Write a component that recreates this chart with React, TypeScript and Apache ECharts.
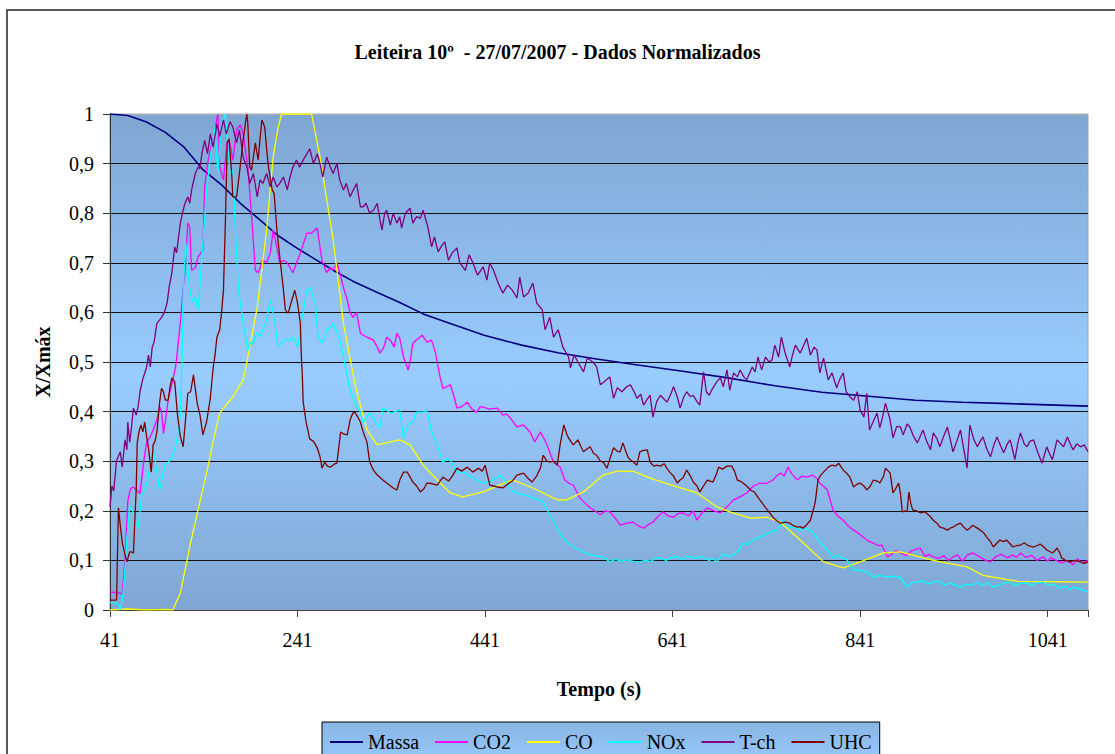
import React, { useEffect, useRef } from 'react';
import * as echarts from 'echarts';

const X0 = 41;
const X_END = 1084;
const xTickLabels = ['41', '241', '441', '641', '841', '1041'];
const yTickLabels = ['0', '0,1', '0,2', '0,3', '0,4', '0,5', '0,6', '0,7', '0,8', '0,9', '1'];
const seriesNames = ['Massa', 'CO2', 'CO', 'NOx', 'T-ch', 'UHC'];
const seriesColors = ['#000080', '#FF00FF', '#FFFF00', '#00FFFF', '#800080', '#800000'];

const massa = [[41,1.0],[60,0.997],[80,0.984],[100,0.963],[120,0.933],[140,0.888],[160,0.857],[180,0.82],[200,0.788],[220,0.755],[240,0.73],[260,0.707],[280,0.684],[300,0.663],[325,0.641],[350,0.62],[375,0.597],[400,0.58],[440,0.554],[480,0.534],[520,0.518],[560,0.506],[600,0.495],[650,0.482],[700,0.468],[750,0.452],[800,0.439],[850,0.431],[900,0.423],[950,0.419],[1000,0.416],[1050,0.413],[1084,0.411]];

const co = [[41,0],[60,0.002],[80,0],[100,0.001],[108,0],[116,0.034],[126,0.127],[134,0.195],[144,0.276],[151,0.34],[158,0.397],[172,0.43],[183,0.464],[187,0.5],[198,0.61],[208,0.766],[215,0.913],[220,0.97],[224,1.0],[240,1.0],[256,1.0],[265,0.913],[279,0.746],[290,0.578],[302,0.458],[308,0.413],[315,0.363],[326,0.333],[338,0.338],[350,0.343],[361,0.333],[375,0.292],[393,0.256],[404,0.236],[417,0.228],[439,0.238],[464,0.258],[471,0.262],[492,0.246],[518,0.222],[528,0.222],[546,0.238],[567,0.272],[582,0.28],[599,0.28],[617,0.266],[646,0.248],[667,0.236],[688,0.208],[702,0.198],[724,0.185],[742,0.187],[756,0.177],[777,0.141],[802,0.097],[823,0.085],[841,0.097],[866,0.115],[884,0.117],[919,0.1],[955,0.087],[972,0.07],[1008,0.058],[1084,0.056]];

const co2 = [[41,0.036],[50,0.035],[54,0.032],[57,0.1],[60,0.22],[63,0.245],[66,0.248],[70,0.24],[73,0.235],[77,0.3],[80,0.337],[84,0.35],[87,0.363],[91,0.383],[94,0.41],[96,0.4],[98,0.356],[100,0.38],[103,0.423],[108,0.464],[111,0.49],[116,0.578],[119,0.65],[121,0.68],[124,0.78],[126,0.772],[128,0.685],[132,0.69],[135,0.712],[140,0.726],[142,0.853],[145,0.9],[148,0.927],[152,0.96],[156,1.0],[158,0.893],[162,0.867],[166,0.947],[169,0.94],[172,0.907],[176,0.968],[180,0.978],[183,0.96],[188,0.893],[192,0.793],[196,0.685],[199,0.68],[204,0.705],[208,0.7],[212,0.72],[215,0.766],[218,0.74],[222,0.7],[226,0.705],[230,0.7],[236,0.68],[240,0.7],[244,0.72],[251,0.76],[256,0.76],[262,0.77],[267,0.705],[272,0.68],[276,0.69],[279,0.685],[283,0.7],[286,0.68],[290,0.65],[294,0.625],[297,0.6],[300,0.59],[304,0.6],[308,0.558],[315,0.55],[322,0.544],[326,0.53],[329,0.518],[333,0.53],[336,0.55],[340,0.544],[344,0.53],[347,0.558],[350,0.548],[354,0.51],[359,0.484],[361,0.5],[364,0.538],[368,0.545],[374,0.554],[379,0.54],[384,0.544],[388,0.52],[390,0.5],[393,0.47],[396,0.447],[400,0.45],[404,0.454],[408,0.43],[411,0.407],[416,0.41],[422,0.419],[427,0.405],[432,0.399],[436,0.41],[439,0.409],[446,0.405],[454,0.407],[460,0.393],[464,0.395],[468,0.387],[475,0.369],[482,0.373],[489,0.359],[494,0.339],[500,0.359],[504,0.345],[507,0.333],[514,0.298],[521,0.288],[526,0.262],[531,0.255],[535,0.252],[542,0.226],[548,0.215],[553,0.206],[558,0.2],[564,0.192],[569,0.2],[574,0.198],[580,0.185],[585,0.171],[592,0.175],[599,0.177],[604,0.17],[610,0.165],[615,0.172],[620,0.177],[626,0.19],[631,0.198],[636,0.19],[642,0.187],[647,0.195],[652,0.196],[658,0.19],[663,0.2],[667,0.181],[672,0.195],[678,0.206],[685,0.2],[692,0.196],[699,0.208],[706,0.222],[713,0.228],[720,0.236],[727,0.25],[734,0.256],[741,0.255],[748,0.262],[752,0.27],[756,0.276],[760,0.27],[764,0.288],[768,0.275],[774,0.262],[779,0.27],[784,0.268],[790,0.272],[795,0.265],[798,0.256],[806,0.242],[812,0.202],[817,0.19],[823,0.181],[828,0.17],[834,0.161],[839,0.155],[844,0.147],[849,0.14],[855,0.135],[860,0.13],[864,0.131],[867,0.12],[870,0.107],[875,0.113],[879,0.12],[884,0.115],[890,0.11],[895,0.118],[900,0.122],[905,0.125],[910,0.108],[915,0.112],[919,0.107],[925,0.104],[930,0.11],[935,0.1],[940,0.107],[945,0.111],[950,0.098],[955,0.11],[961,0.115],[966,0.11],[971,0.104],[975,0.1],[980,0.097],[986,0.108],[992,0.112],[998,0.105],[1004,0.111],[1008,0.106],[1012,0.115],[1018,0.106],[1024,0.11],[1030,0.1],[1036,0.107],[1041,0.098],[1044,0.105],[1050,0.1],[1056,0.095],[1062,0.1],[1068,0.091],[1073,0.103],[1078,0.095],[1084,0.1]];

const nox = [[41,0.015],[47,0.015],[50,0.01],[52,0],[54,0.02],[56,0.056],[59,0.145],[62,0.21],[65,0.2],[68,0.177],[71,0.165],[75,0.232],[80,0.252],[84,0.29],[87,0.327],[91,0.278],[94,0.242],[97,0.27],[100,0.292],[104,0.3],[107,0.306],[112,0.339],[116,0.393],[118,0.514],[119,0.645],[122,0.74],[124,0.69],[126,0.645],[129,0.62],[132,0.63],[135,0.605],[139,0.712],[144,0.847],[148,0.913],[153,0.974],[156,0.88],[160,0.98],[164,1.0],[166,0.947],[169,0.88],[172,0.887],[174,0.793],[178,0.645],[183,0.578],[188,0.524],[191,0.54],[194,0.538],[197,0.56],[201,0.55],[205,0.57],[208,0.585],[212,0.625],[215,0.6],[217,0.578],[220,0.53],[224,0.538],[228,0.545],[233,0.544],[236,0.55],[239,0.54],[241,0.53],[246,0.59],[251,0.645],[254,0.65],[257,0.635],[260,0.62],[263,0.55],[267,0.538],[270,0.55],[272,0.565],[276,0.57],[279,0.578],[283,0.56],[286,0.544],[289,0.52],[292,0.49],[297,0.444],[300,0.43],[304,0.41],[308,0.399],[311,0.377],[315,0.39],[318,0.397],[322,0.385],[326,0.373],[329,0.369],[332,0.407],[336,0.403],[340,0.397],[345,0.4],[350,0.403],[354,0.347],[359,0.373],[364,0.38],[368,0.399],[375,0.399],[379,0.403],[384,0.359],[390,0.333],[396,0.298],[400,0.305],[404,0.302],[411,0.278],[418,0.278],[424,0.27],[428,0.268],[434,0.26],[439,0.256],[445,0.26],[450,0.262],[457,0.272],[464,0.258],[471,0.238],[476,0.235],[482,0.232],[487,0.23],[492,0.226],[498,0.222],[503,0.218],[510,0.192],[518,0.165],[524,0.145],[528,0.138],[532,0.131],[537,0.125],[542,0.121],[548,0.115],[553,0.111],[560,0.109],[567,0.107],[574,0.097],[580,0.102],[586,0.099],[592,0.101],[599,0.098],[606,0.097],[612,0.1],[618,0.098],[623,0.104],[628,0.105],[634,0.1],[640,0.106],[646,0.107],[652,0.102],[656,0.108],[660,0.107],[666,0.104],[670,0.108],[674,0.105],[680,0.1],[684,0.104],[688,0.097],[695,0.113],[701,0.108],[706,0.111],[711,0.12],[716,0.135],[721,0.132],[727,0.141],[732,0.145],[737,0.15],[742,0.155],[747,0.158],[752,0.161],[756,0.17],[759,0.181],[763,0.172],[766,0.165],[771,0.168],[777,0.161],[782,0.165],[788,0.161],[791,0.155],[795,0.145],[800,0.133],[806,0.121],[812,0.105],[816,0.11],[820,0.107],[827,0.101],[831,0.09],[834,0.081],[841,0.08],[848,0.077],[852,0.072],[855,0.067],[862,0.07],[870,0.067],[877,0.068],[884,0.065],[888,0.055],[891,0.046],[896,0.055],[902,0.056],[908,0.06],[913,0.052],[919,0.056],[926,0.058],[931,0.05],[937,0.054],[943,0.05],[948,0.046],[954,0.052],[960,0.05],[966,0.056],[972,0.05],[977,0.055],[983,0.046],[989,0.05],[995,0.055],[1001,0.056],[1006,0.05],[1012,0.054],[1019,0.054],[1025,0.05],[1030,0.055],[1036,0.056],[1042,0.05],[1048,0.052],[1054,0.044],[1060,0.048],[1064,0.04],[1068,0.046],[1074,0.044],[1078,0.04],[1084,0.036]];

const tch = [[41,0.208],[43,0.25],[45,0.24],[48,0.302],[50,0.31],[52,0.319],[54,0.288],[57,0.343],[59,0.323],[60,0.379],[62,0.338],[64,0.37],[66,0.407],[69,0.393],[71,0.41],[73,0.44],[76,0.466],[80,0.489],[82,0.514],[84,0.49],[86,0.53],[88,0.54],[91,0.578],[94,0.585],[96,0.59],[99,0.6],[102,0.62],[104,0.65],[107,0.68],[110,0.732],[112,0.72],[116,0.78],[119,0.806],[121,0.82],[124,0.833],[126,0.82],[128,0.847],[132,0.88],[135,0.893],[137,0.89],[139,0.92],[142,0.947],[145,0.92],[148,0.96],[151,0.933],[155,0.98],[158,0.955],[162,0.988],[165,0.96],[169,0.984],[172,0.974],[176,0.942],[179,0.968],[183,0.913],[187,0.893],[190,0.86],[194,0.88],[198,0.833],[201,0.867],[204,0.86],[208,0.88],[212,0.853],[215,0.873],[219,0.853],[222,0.86],[226,0.873],[230,0.847],[233,0.873],[236,0.893],[240,0.907],[243,0.893],[247,0.907],[251,0.92],[254,0.93],[258,0.9],[262,0.92],[265,0.9],[268,0.873],[272,0.913],[276,0.893],[279,0.88],[283,0.9],[286,0.867],[290,0.847],[293,0.86],[297,0.833],[300,0.845],[304,0.86],[308,0.813],[311,0.813],[314,0.82],[318,0.8],[322,0.806],[326,0.82],[329,0.786],[331,0.766],[334,0.8],[336,0.806],[340,0.776],[343,0.8],[347,0.78],[350,0.793],[352,0.77],[356,0.8],[361,0.81],[364,0.78],[368,0.793],[372,0.79],[375,0.806],[380,0.772],[384,0.732],[387,0.752],[391,0.722],[395,0.735],[398,0.742],[402,0.705],[406,0.72],[411,0.73],[414,0.7],[420,0.685],[424,0.716],[428,0.7],[433,0.675],[439,0.692],[443,0.665],[446,0.7],[450,0.685],[455,0.659],[460,0.639],[465,0.655],[470,0.645],[475,0.629],[478,0.671],[482,0.631],[487,0.639],[492,0.659],[496,0.619],[502,0.605],[505,0.565],[510,0.59],[514,0.55],[519,0.565],[524,0.53],[530,0.51],[532,0.488],[536,0.514],[540,0.5],[546,0.48],[550,0.508],[556,0.5],[560,0.49],[564,0.454],[568,0.46],[574,0.47],[578,0.427],[582,0.448],[587,0.44],[592,0.45],[596,0.454],[600,0.44],[603,0.427],[607,0.435],[610,0.413],[614,0.425],[617,0.433],[620,0.389],[624,0.42],[628,0.433],[632,0.425],[635,0.419],[639,0.435],[642,0.45],[646,0.43],[649,0.407],[653,0.43],[656,0.44],[660,0.43],[663,0.433],[667,0.42],[670,0.413],[674,0.48],[677,0.44],[680,0.433],[684,0.448],[688,0.46],[692,0.468],[695,0.45],[699,0.484],[702,0.443],[706,0.478],[710,0.47],[713,0.484],[717,0.47],[720,0.464],[726,0.49],[729,0.48],[732,0.51],[736,0.484],[740,0.51],[744,0.5],[747,0.504],[750,0.534],[754,0.51],[757,0.55],[761,0.518],[766,0.49],[769,0.515],[772,0.534],[777,0.518],[780,0.53],[784,0.548],[788,0.514],[792,0.53],[795,0.524],[798,0.478],[802,0.508],[807,0.464],[811,0.478],[816,0.448],[819,0.464],[823,0.478],[826,0.44],[830,0.43],[834,0.423],[838,0.44],[841,0.403],[845,0.389],[848,0.437],[851,0.363],[855,0.38],[859,0.397],[862,0.367],[865,0.39],[868,0.417],[873,0.383],[876,0.347],[880,0.37],[884,0.369],[887,0.353],[891,0.375],[894,0.369],[898,0.35],[902,0.337],[905,0.35],[908,0.363],[912,0.34],[916,0.323],[919,0.357],[923,0.345],[926,0.329],[930,0.35],[934,0.369],[937,0.345],[940,0.319],[944,0.34],[948,0.363],[951,0.33],[955,0.286],[958,0.373],[962,0.345],[966,0.329],[969,0.34],[972,0.349],[976,0.325],[980,0.309],[984,0.335],[987,0.349],[991,0.33],[994,0.317],[998,0.335],[1001,0.343],[1004,0.32],[1006,0.303],[1009,0.335],[1012,0.357],[1016,0.335],[1019,0.329],[1022,0.34],[1026,0.343],[1030,0.32],[1035,0.296],[1040,0.329],[1043,0.315],[1046,0.303],[1051,0.343],[1055,0.335],[1058,0.329],[1062,0.349],[1065,0.335],[1068,0.323],[1072,0.335],[1076,0.329],[1080,0.333],[1084,0.319]];

const uhc = [[41,0.02],[44,0.02],[48,0.02],[50,0.206],[52,0.17],[54,0.137],[57,0.111],[59,0.097],[62,0.117],[64,0.117],[66,0.115],[69,0.246],[70,0.337],[72,0.36],[74,0.373],[76,0.359],[78,0.379],[80,0.35],[82,0.327],[85,0.278],[87,0.333],[89,0.34],[91,0.359],[94,0.42],[96,0.447],[98,0.44],[100,0.423],[103,0.423],[105,0.45],[107,0.468],[110,0.46],[113,0.393],[116,0.35],[119,0.329],[122,0.393],[124,0.437],[127,0.44],[130,0.474],[134,0.417],[137,0.393],[140,0.353],[144,0.379],[148,0.427],[151,0.488],[153,0.514],[155,0.55],[158,0.565],[160,0.6],[162,0.645],[164,0.78],[166,0.942],[168,0.95],[171,0.873],[172,0.833],[176,0.833],[179,0.88],[183,0.947],[186,0.99],[187,1.0],[188,0.98],[190,0.893],[192,0.887],[196,0.942],[199,0.907],[201,0.95],[203,0.988],[206,0.974],[208,0.93],[210,0.893],[214,0.847],[216,0.84],[219,0.766],[222,0.712],[226,0.645],[228,0.605],[231,0.598],[235,0.625],[238,0.645],[241,0.619],[244,0.578],[245,0.514],[246,0.478],[247,0.42],[250,0.38],[254,0.345],[258,0.34],[262,0.327],[265,0.309],[267,0.286],[270,0.298],[273,0.29],[276,0.288],[280,0.294],[283,0.296],[287,0.359],[290,0.355],[294,0.353],[297,0.383],[300,0.397],[302,0.399],[305,0.39],[308,0.379],[311,0.359],[315,0.339],[318,0.298],[322,0.282],[326,0.272],[332,0.262],[336,0.256],[343,0.246],[347,0.242],[350,0.262],[354,0.278],[358,0.278],[364,0.258],[368,0.25],[372,0.238],[376,0.245],[379,0.256],[384,0.255],[390,0.252],[396,0.268],[402,0.26],[406,0.27],[411,0.286],[416,0.28],[422,0.288],[428,0.278],[434,0.286],[438,0.28],[441,0.292],[446,0.252],[450,0.25],[454,0.248],[460,0.246],[466,0.255],[470,0.26],[475,0.272],[482,0.276],[487,0.265],[491,0.258],[496,0.27],[500,0.286],[503,0.312],[507,0.3],[510,0.298],[514,0.3],[518,0.292],[521,0.333],[525,0.373],[528,0.355],[530,0.347],[535,0.333],[540,0.343],[543,0.33],[546,0.319],[550,0.325],[553,0.329],[557,0.315],[560,0.312],[564,0.3],[567,0.298],[571,0.286],[575,0.31],[578,0.327],[582,0.32],[585,0.319],[588,0.337],[591,0.32],[594,0.306],[598,0.3],[603,0.292],[606,0.319],[610,0.322],[614,0.323],[617,0.298],[621,0.29],[624,0.292],[628,0.29],[632,0.295],[635,0.285],[638,0.278],[642,0.27],[646,0.256],[649,0.262],[652,0.266],[656,0.282],[660,0.27],[663,0.258],[667,0.25],[670,0.238],[674,0.25],[678,0.262],[681,0.26],[684,0.258],[688,0.275],[690,0.288],[694,0.284],[699,0.29],[704,0.29],[707,0.28],[710,0.262],[713,0.26],[716,0.256],[720,0.25],[724,0.242],[728,0.238],[731,0.23],[734,0.222],[738,0.212],[742,0.202],[745,0.195],[748,0.187],[752,0.18],[756,0.175],[761,0.177],[766,0.175],[770,0.17],[774,0.167],[777,0.168],[780,0.165],[784,0.172],[788,0.181],[790,0.195],[793,0.216],[796,0.262],[799,0.272],[802,0.278],[805,0.284],[807,0.288],[811,0.292],[815,0.29],[818,0.296],[823,0.282],[827,0.275],[830,0.268],[834,0.248],[838,0.254],[841,0.256],[845,0.25],[848,0.242],[852,0.25],[855,0.262],[859,0.26],[862,0.256],[866,0.27],[868,0.286],[871,0.28],[873,0.276],[876,0.236],[879,0.245],[882,0.256],[884,0.235],[886,0.198],[889,0.2],[891,0.198],[893,0.238],[895,0.215],[897,0.202],[901,0.2],[905,0.196],[910,0.198],[915,0.19],[919,0.181],[923,0.175],[926,0.167],[930,0.165],[934,0.161],[937,0.165],[940,0.167],[944,0.172],[948,0.175],[951,0.168],[955,0.161],[958,0.165],[961,0.171],[966,0.165],[970,0.16],[973,0.155],[976,0.147],[980,0.138],[983,0.127],[987,0.135],[990,0.141],[994,0.138],[997,0.141],[1000,0.135],[1004,0.127],[1008,0.13],[1012,0.131],[1016,0.135],[1020,0.13],[1026,0.127],[1030,0.13],[1033,0.133],[1037,0.127],[1040,0.121],[1043,0.118],[1046,0.115],[1049,0.12],[1051,0.125],[1054,0.115],[1056,0.105],[1060,0.1],[1065,0.097],[1070,0.1],[1076,0.097],[1080,0.094],[1084,0.097]];

const seriesData = [massa, co2, co, nox, tch, uhc];

const FONT = 'Liberation Serif';

export default function App() {
  const ref = useRef<HTMLDivElement>(null);
  useEffect(() => {
    if (!ref.current) return;
    const chart = echarts.init(ref.current, undefined, { renderer: 'svg' });
    const plotBg = new echarts.graphic.LinearGradient(0, 0, 0, 1, [
      { offset: 0, color: '#7EA6D2' },
      { offset: 0.53, color: '#99CCFF' },
      { offset: 1, color: '#7EA6D2' },
    ]);
    const legendBg = new echarts.graphic.LinearGradient(0, 0, 0, 1, [
      { offset: 0, color: '#88B6E4' },
      { offset: 1, color: '#99CCFF' },
    ]);
    const splitColors = yTickLabels.map((_, i) => (i === yTickLabels.length - 1 ? '#b0b0b0' : '#111'));
    chart.setOption({
      animation: false,
      backgroundColor: '#ffffff',
      title: {
        text: 'Leiteira 10º  - 27/07/2007 - Dados Normalizados',
        left: 'center',
        top: 37,
        textStyle: { fontFamily: FONT, fontSize: 20, fontWeight: 'bold', color: '#000' },
      },
      graphic: [
        {
          type: 'rect',
          shape: { x: 7, y: 10, width: 1130, height: 780 },
          style: { fill: 'none', stroke: '#222', lineWidth: 1.5 },
          silent: true,
          z: 100,
        },
        {
          type: 'text',
          x: 43,
          y: 362,
          rotation: Math.PI / 2,
          style: {
            text: 'X/Xmáx',
            fontFamily: FONT,
            fontSize: 20,
            fontWeight: 'bold',
            fill: '#000',
            align: 'center',
            verticalAlign: 'middle',
          },
        },
        {
          type: 'text',
          x: 599,
          y: 689,
          style: {
            text: 'Tempo (s)',
            fontFamily: FONT,
            fontSize: 20,
            fontWeight: 'bold',
            fill: '#000',
            align: 'center',
            verticalAlign: 'middle',
          },
        },
      ],
      legend: {
        data: seriesNames,
        left: 322,
        top: 722,
        orient: 'horizontal',
        icon: 'rect',
        itemWidth: 33,
        itemHeight: 2,
        itemGap: 16,
        padding: [10, 8, 16, 8],
        borderColor: '#000',
        borderWidth: 1,
        backgroundColor: legendBg,
        textStyle: { fontFamily: FONT, fontSize: 20, color: '#000' },
      },
      grid: {
        left: 110,
        right: 27,
        top: 114,
        bottom: 144,
        show: true,
        backgroundColor: plotBg,
        borderColor: '#9aa4b0',
        borderWidth: 1,
      },
      xAxis: {
        type: 'value',
        min: 0,
        max: X_END - X0,
        interval: 200,
        axisLine: { show: true, onZero: false, lineStyle: { color: '#404040', width: 1 } },
        axisTick: { show: true, length: 7, lineStyle: { color: '#404040' } },
        axisLabel: {
          margin: 20,
          fontFamily: FONT,
          fontSize: 20,
          color: '#000',
          formatter: (v: number) => {
            const i = Math.round(v / 200);
            return Math.abs(v - i * 200) < 1e-6 && i < xTickLabels.length ? xTickLabels[i] : '';
          },
        },
        splitLine: { show: false },
      },
      yAxis: {
        type: 'value',
        min: 0,
        max: 1,
        interval: 0.1,
        axisLine: { show: true, lineStyle: { color: '#333', width: 1 } },
        axisTick: { show: true, length: 7, lineStyle: { color: '#333' } },
        axisLabel: {
          margin: 16,
          fontFamily: FONT,
          fontSize: 20,
          color: '#000',
          formatter: (v: number) => yTickLabels[Math.round(v * 10)] ?? '',
        },
        splitLine: { show: true, lineStyle: { color: splitColors, width: 1 } },
      },
      series: seriesNames.map((name, i) => ({
        name,
        type: 'line',
        data: seriesData[i].map(([t, v]) => [t - X0, v]),
        showSymbol: false,
        symbol: 'none',
        smooth: false,
        color: seriesColors[i],
        lineStyle: { color: seriesColors[i], width: i === 0 ? 1.6 : 1.3 },
        z: 2 + i,
      })),
    });
    return () => chart.dispose();
  }, []);
  return <div ref={ref} style={{ position: 'absolute', left: 0, top: 0, width: 1115, height: 754 }} />;
}
